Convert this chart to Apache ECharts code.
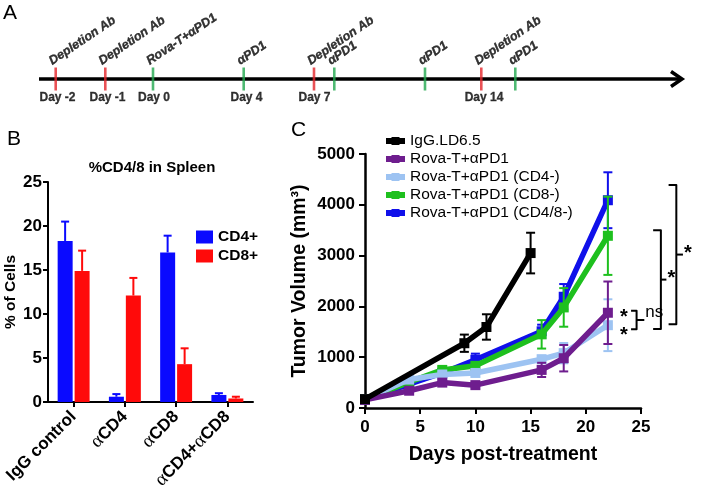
<!DOCTYPE html>
<html><head><meta charset="utf-8">
<script src="https://cdn.jsdelivr.net/npm/echarts@6/dist/echarts.min.js"></script>
<style>html,body{margin:0;padding:0;background:#fff}#c{width:702px;height:486px}</style>
</head><body><div id="c"></div>
<script>
// ---------- Panel A : treatment timeline (schematic positions) ----------
const eventLabels = ['Depletion Ab','Depletion Ab','Rova-T+αPD1','αPD1','Depletion Ab','αPD1','αPD1','Depletion Ab','αPD1'];
const eventTypes  = ['dep','dep','pd1','pd1','dep','pd1','pd1','dep','pd1'];
const eventPos    = [16.7, 66.3, 114, 204.7, 275, 295.3, 386, 442.3, 476.3];
const dayLabels   = ['Day -2','Day -1','Day 0','Day 4','Day 7','Day 14'];
const dayPos      = [18.5, 68.5, 115, 207.5, 275.5, 445];
const timelineEnd = 644;

// ---------- Panel B : %CD4/8 in spleen ----------
const bCategories = ['IgG control','αCD4','αCD8','αCD4+αCD8'];
const cd4Mean  = [18.3, 0.6, 17.0, 0.8];
const cd4Upper = [20.5, 0.9, 18.9, 1.0];
const cd8Mean  = [14.9, 12.1, 4.3, 0.4];
const cd8Upper = [17.2, 14.1, 6.1, 0.6];

// ---------- Panel C : tumor volume ----------
const daysIgG = [0, 9, 11, 15];
const volIgG  = [175, 1275, 1595, 3050];
const errIgG  = [20, 170, 250, 400];
const daysTx  = [0, 4, 7, 10, 16, 18, 22];
const volRova = [160, 340, 500, 450, 750, 980, 1875];
const errRova = [20, 40, 50, 60, 140, 260, 615];
const volCD4  = [170, 560, 660, 690, 960, 1080, 1630];
const errCD4  = [20, 50, 60, 60, 70, 200, 510];
const volCD8  = [170, 510, 750, 830, 1450, 1980, 3390];
const errCD8  = [20, 50, 60, 50, 280, 380, 770];
const volCD48 = [160, 470, 690, 950, 1510, 2190, 4090];
const errCD48 = [20, 50, 50, 120, 130, 250, 550];
// significance brackets: [xLeft, xVertical, xNub, yTop, yBottom] (days, mm3)
const sigBrackets = [[27.5, 28.2, 28.8, 4390, 1650], [26.1, 26.8, 27.3, 3500, 1555], [24.1, 24.6, 25.3, 1915, 1550]];
const sigBracketLabels = ['*', '*', 'ns'];
const sigStars = [[23.45, 1864], [23.45, 1516]];

const FONT = '"Liberation Sans", Arial, sans-serif';
const COL = {igg:'#000000', rova:'#6e1d8e', cd4:'#9dc3f2', cd8:'#1ec01e', cd48:'#1010ea', red:'#ff0a0a', blue:'#0a0aff', tRed:'#e3262b', tGreen:'#22a84f'};

const chart = echarts.init(document.getElementById('c'), null, {renderer:'canvas'});

function errBarsC(name, days, vals, errs, color, z){
  return {
    type:'custom', name: name + '_err', xAxisIndex:2, yAxisIndex:2, z:z, clip:false, silent:true,
    data: days.map((d,i)=>[d, vals[i]-errs[i], vals[i]+errs[i]]),
    encode:{x:0, y:[1,2]},
    renderItem:function(p, api){
      const lo = api.coord([api.value(0), api.value(1)]);
      const hi = api.coord([api.value(0), api.value(2)]);
      const c = 4.5, st = {stroke:color, lineWidth:2};
      return {type:'group', children:[
        {type:'line', shape:{x1:lo[0], y1:lo[1], x2:hi[0], y2:hi[1]}, style:st},
        {type:'line', shape:{x1:lo[0]-c, y1:lo[1], x2:lo[0]+c, y2:lo[1]}, style:st},
        {type:'line', shape:{x1:hi[0]-c, y1:hi[1], x2:hi[0]+c, y2:hi[1]}, style:st}
      ]};
    }
  };
}
function lineC(name, days, vals, color, z){
  return {
    type:'line', name:name, xAxisIndex:2, yAxisIndex:2, z:z,
    data: days.map((d,i)=>[d, vals[i]]),
    symbol:'rect', symbolSize:10, showSymbol:true,
    lineStyle:{color:color, width:5.5}, itemStyle:{color:color},
    emphasis:{disabled:true}
  };
}
function errBarsB(name, means, uppers, color, dx){
  return {
    type:'custom', name:name, xAxisIndex:1, yAxisIndex:1, z:5, silent:true,
    data: means.map((m,i)=>[i, m, uppers[i]]),
    encode:{x:0, y:[1,2]},
    renderItem:function(p, api){
      const lo = api.coord([api.value(0), api.value(1)]);
      const hi = api.coord([api.value(0), api.value(2)]);
      const x = lo[0] + dx, c = 4, st = {stroke:color, lineWidth:2};
      return {type:'group', children:[
        {type:'line', shape:{x1:x, y1:lo[1], x2:x, y2:hi[1]}, style:st},
        {type:'line', shape:{x1:x-c, y1:hi[1], x2:x+c, y2:hi[1]}, style:st}
      ]};
    }
  };
}
const plain = v => String(v);

const option = {
  animation:false,
  backgroundColor:'#ffffff',
  textStyle:{fontFamily:FONT},
  grid:[
    {left:39, top:59, width:timelineEnd, height:40, outerBoundsMode:'none'},
    {left:48, top:182, width:205, height:220, outerBoundsMode:'none'},
    {left:365, top:154, width:276, height:254, outerBoundsMode:'none'}
  ],
  xAxis:[
    {gridIndex:0, type:'value', min:0, max:timelineEnd, show:false},
    {gridIndex:1, type:'category', data:bCategories,
     axisLine:{lineStyle:{color:'#000', width:2}},
     axisTick:{show:true, alignWithLabel:true, length:5, lineStyle:{color:'#000', width:2}},
     axisLabel:{interval:0, rotate:45, margin:12, color:'#000', fontSize:17, fontWeight:'bold', fontFamily:FONT,
       formatter:function(v){ return v.replace(/α/g, '{g|α}'); },
       rich:{g:{fontFamily:'"Liberation Serif", "DejaVu Serif", serif', fontSize:19, fontWeight:'normal', color:'#000'}}},
     splitLine:{show:false}},
    {gridIndex:2, type:'value', min:0, max:25, interval:5,
     axisLine:{show:true, lineStyle:{color:'#000', width:2.5}},
     axisTick:{show:true, length:6, lineStyle:{color:'#000', width:2}},
     axisLabel:{margin:11, color:'#000', fontSize:17, fontWeight:'bold', fontFamily:FONT, formatter:plain},
     splitLine:{show:false},
     name:'Days post-treatment', nameLocation:'middle', nameGap:37,
     nameTextStyle:{color:'#000', fontSize:19.5, fontWeight:'bold', fontFamily:FONT}}
  ],
  yAxis:[
    {gridIndex:0, type:'value', min:-1, max:1, show:false},
    {gridIndex:1, type:'value', min:0, max:25, interval:5,
     axisLine:{show:true, lineStyle:{color:'#000', width:2}},
     axisTick:{show:true, length:5, lineStyle:{color:'#000', width:2}},
     axisLabel:{margin:6, color:'#000', fontSize:17, fontWeight:'bold', fontFamily:FONT, formatter:plain},
     splitLine:{show:false},
     name:'% of Cells', nameLocation:'middle', nameGap:27, nameRotate:90,
     nameTextStyle:{color:'#000', fontSize:15.5, fontWeight:'bold', fontFamily:FONT}},
    {gridIndex:2, type:'value', min:0, max:5000, interval:1000,
     axisLine:{show:true, lineStyle:{color:'#000', width:2.5}},
     axisTick:{show:true, length:6, lineStyle:{color:'#000', width:2}},
     axisLabel:{margin:10, color:'#000', fontSize:17, fontWeight:'bold', fontFamily:FONT, formatter:plain},
     splitLine:{show:false},
     name:'Tumor Volume (mm³)', nameLocation:'middle', nameGap:55, nameRotate:90,
     nameTextStyle:{color:'#000', fontSize:19.5, fontWeight:'bold', fontFamily:FONT}}
  ],
  legend:[
    {data:['CD4+','CD8+'], left:191, top:224, orient:'vertical', icon:'rect', itemWidth:17, itemHeight:13, itemGap:3,
     selectedMode:false, textStyle:{color:'#000', fontSize:15.5, fontWeight:'bold', fontFamily:FONT}},
    {data:['IgG.LD6.5','Rova-T+αPD1','Rova-T+αPD1 (CD4-)','Rova-T+αPD1 (CD8-)','Rova-T+αPD1 (CD4/8-)'],
     left:378, top:128, orient:'vertical', itemWidth:19, itemHeight:10, itemGap:2, selectedMode:false,
     lineStyle:{width:6}, itemStyle:{},
     textStyle:{color:'#000', fontSize:15.5, fontFamily:FONT, lineHeight:15}}
  ],
  graphic:[
    {type:'text', left:3, top:3, style:{text:'A', fontSize:21, fontFamily:FONT, fill:'#000'}},
    {type:'text', left:7, top:129, style:{text:'B', fontSize:21, fontFamily:FONT, fill:'#000'}},
    {type:'text', left:291, top:120, style:{text:'C', fontSize:21, fontFamily:FONT, fill:'#000'}},
    {type:'text', x:152, y:168, style:{text:'%CD4/8 in Spleen', fontSize:15, fontWeight:'bold', fontFamily:FONT, fill:'#000', align:'center', verticalAlign:'middle'}}
  ],
  series:[
    // ---- timeline
    {type:'custom', xAxisIndex:0, yAxisIndex:0, z:2, silent:true, clip:false, data:[[0]],
     renderItem:function(p, api){
       const a = api.coord([0,0]), b = api.coord([timelineEnd,0]);
       const st = {stroke:'#000', lineWidth:3.5, lineJoin:'miter', fill:null};
       return {type:'group', children:[
         {type:'line', shape:{x1:a[0], y1:a[1], x2:b[0]-2, y2:b[1]}, style:st},
         {type:'polyline', shape:{points:[[b[0]-12, b[1]-7.5],[b[0]-1, b[1]],[b[0]-12, b[1]+7.5]]}, style:st}
       ]};
     }},
    {type:'scatter', xAxisIndex:0, yAxisIndex:0, z:3, silent:true,
     symbol:'rect', symbolSize:[2.6, 23],
     data:eventPos.map((x,i)=>({name:eventLabels[i], value:[x,0], itemStyle:{color: eventTypes[i]==='dep'?COL.tRed:COL.tGreen}})),
     label:{show:true, position:'top', distance:1, offset:[-2,0], rotate:34, align:'left', verticalAlign:'bottom',
       formatter:'{b}', color:'#000', fontSize:12.5, fontWeight:'bold', fontStyle:'italic', fontFamily:FONT,
       textBorderColor:'#000', textBorderWidth:0.35}},
    {type:'scatter', xAxisIndex:0, yAxisIndex:0, z:3, silent:true, symbolSize:0,
     data:dayPos.map((x,i)=>({name:dayLabels[i], value:[x,0]})),
     label:{show:true, position:'bottom', distance:13, formatter:'{b}', color:'#000', fontSize:12, fontWeight:'bold', fontFamily:FONT,
       textBorderColor:'#000', textBorderWidth:0.3}},
    // ---- panel B bars
    {type:'bar', name:'CD4+', xAxisIndex:1, yAxisIndex:1, data:cd4Mean, barWidth:15, barGap:'13%', itemStyle:{color:COL.blue}, z:3},
    {type:'bar', name:'CD8+', xAxisIndex:1, yAxisIndex:1, data:cd8Mean, barWidth:15, barGap:'13%', itemStyle:{color:COL.red}, z:3},
    errBarsB('cd4err', cd4Mean, cd4Upper, COL.blue, -8.5),
    errBarsB('cd8err', cd8Mean, cd8Upper, COL.red, 8.5),
    // ---- panel C lines
    errBarsC('cd48', daysTx, volCD48, errCD48, COL.cd48, 3),
    lineC('Rova-T+αPD1 (CD4/8-)', daysTx, volCD48, COL.cd48, 3),
    errBarsC('cd8', daysTx, volCD8, errCD8, COL.cd8, 4),
    lineC('Rova-T+αPD1 (CD8-)', daysTx, volCD8, COL.cd8, 4),
    errBarsC('cd4', daysTx, volCD4, errCD4, COL.cd4, 5),
    lineC('Rova-T+αPD1 (CD4-)', daysTx, volCD4, COL.cd4, 5),
    errBarsC('rova', daysTx, volRova, errRova, COL.rova, 6),
    lineC('Rova-T+αPD1', daysTx, volRova, COL.rova, 6),
    errBarsC('igg', daysIgG, volIgG, errIgG, COL.igg, 7),
    lineC('IgG.LD6.5', daysIgG, volIgG, COL.igg, 7),
    // ---- significance annotations
    {type:'custom', xAxisIndex:2, yAxisIndex:2, z:8, clip:false, silent:true, data:sigBrackets,
     encode:{x:[0,1,2], y:[3,4]},
     renderItem:function(p, api){
       const tl = api.coord([api.value(0), api.value(3)]);
       const tv = api.coord([api.value(1), api.value(3)]);
       const bv = api.coord([api.value(1), api.value(4)]);
       const bl = api.coord([api.value(0), api.value(4)]);
       const xn = api.coord([api.value(2), 0])[0];
       const ym = (tv[1] + bv[1]) / 2;
       const st = {stroke:'#000', lineWidth:2, fill:null, lineJoin:'round'};
       const lab = sigBracketLabels[p.dataIndex];
       const isStar = lab === '*';
       return {type:'group', children:[
         {type:'polyline', shape:{points:[tl, tv, bv, bl]}, style:st},
         {type:'line', shape:{x1:tv[0], y1:ym, x2:xn, y2:ym}, style:st},
         {type:'text', x: xn + 1, y: isStar ? ym - 1 : ym + 1,
          style:{text:lab, fill:'#000', fontFamily:FONT, fontSize: isStar ? 20 : 17, fontWeight: isStar ? 'bold' : 'normal',
                 align:'left', verticalAlign: isStar ? 'middle' : 'bottom'}}
       ]};
     }},
    {type:'custom', xAxisIndex:2, yAxisIndex:2, z:8, clip:false, silent:true, data:sigStars,
     encode:{x:0, y:1},
     renderItem:function(p, api){
       const c = api.coord([api.value(0), api.value(1)]);
       return {type:'text', x:c[0], y:c[1] + 4, style:{text:'*', fill:'#000', fontFamily:FONT, fontSize:20, fontWeight:'bold', align:'center', verticalAlign:'middle'}};
     }}
  ]
};
chart.setOption(option);
</script>
</body></html>
